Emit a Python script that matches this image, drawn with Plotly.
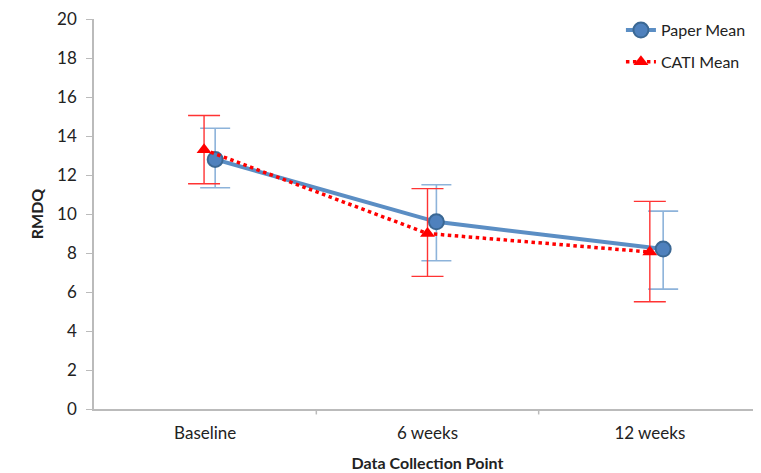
import plotly.graph_objects as go

categories = ["Baseline", "6 weeks", "12 weeks"]
paper_mean = [12.8, 9.6, 8.2]
paper_err_plus = [1.6, 1.9, 1.95]
paper_err_minus = [1.45, 2.0, 2.05]
cati_mean = [13.3, 9.0, 8.05]
cati_err_plus = [1.75, 2.3, 2.6]
cati_err_minus = [1.75, 2.2, 2.55]
paper_offset = [0.045, 0.04, 0.06]
cati_offset = [-0.005, 0.0, 0.0]
y_ticks = [0, 2, 4, 6, 8, 10, 12, 14, 16, 18, 20]

xs = list(range(len(categories)))
px = [x + o for x, o in zip(xs, paper_offset)]
cx = [x + o for x, o in zip(xs, cati_offset)]

font = "Lato, 'Open Sans', sans-serif"

fig = go.Figure()
fig.add_trace(go.Scatter(
    x=px, y=paper_mean, name="Paper Mean", mode="lines+markers",
    legendgroup="a",
    line=dict(color="#5B8EC4", width=4),
    marker=dict(symbol="circle", size=15, color="#4F81BD", line=dict(color="#3B6894", width=2)),
    error_y=dict(type="data", symmetric=False, array=paper_err_plus, arrayminus=paper_err_minus,
                 color="#8DB3DA", thickness=1.6, width=15),
))
fig.add_trace(go.Scatter(
    x=cx, y=cati_mean, name="CATI Mean", mode="lines+markers",
    legendgroup="b",
    line=dict(color="#FF0000", width=3.5, dash="dot"),
    marker=dict(symbol="triangle-up", size=13, color="#FF0000"),
    error_y=dict(type="data", symmetric=False, array=cati_err_plus, arrayminus=cati_err_minus,
                 color="#FF3333", thickness=1.4, width=16),
))

# page has an 8px body margin, so the figure is 8px smaller and margins shifted
fig.update_layout(
    width=753, height=465,
    margin=dict(l=86, r=0, t=11, b=64, autoexpand=False),
    paper_bgcolor="white", plot_bgcolor="white",
    font=dict(family=font, size=17, color="#222222"),
    showlegend=True,
    legend=dict(x=0.79, y=1.015, xanchor="left", yanchor="top",
                font=dict(size=16, color="#222222"), tracegroupgap=8,
                bgcolor="rgba(0,0,0,0)", itemwidth=30),
    xaxis=dict(range=[-0.5, 2.5], tickmode="array", tickvals=xs, ticktext=categories,
               showgrid=False, zeroline=False, showline=True, linecolor="#BBBBBB", linewidth=1.5,
               ticks="", tickfont=dict(size=17), automargin=False, ticklabelstandoff=8,
               ticklabeloverflow="allow",
               title=dict(text="<b>Data Collection Point</b>", font=dict(size=16), standoff=16)),
    yaxis=dict(range=[0, 20], tickmode="array", tickvals=y_ticks,
               showgrid=False, zeroline=False, showline=True, linecolor="#BBBBBB", linewidth=1.5,
               ticks="outside", ticklen=6, tickcolor="#BBBBBB", tickfont=dict(size=17), automargin=False,
               ticklabelstandoff=6, ticklabeloverflow="allow",
               title=dict(text="<b>RMDQ</b>", font=dict(size=16), standoff=10)),
)

# category separator ticks on x axis
for b in [0.5, 1.5]:
    fig.add_shape(type="line", xref="x", yref="paper", x0=b, x1=b, y0=0, y1=-0.014,
                  line=dict(color="#BBBBBB", width=1.5))

fig.write_html("out.html")
